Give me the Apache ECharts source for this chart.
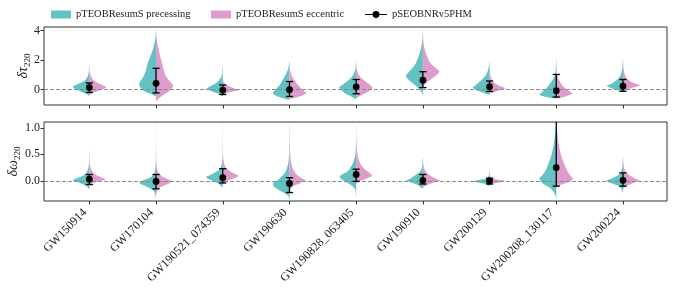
<!DOCTYPE html>
<html>
<head>
<meta charset="utf-8">
<script src="https://cdn.jsdelivr.net/npm/echarts@6/dist/echarts.min.js"></script>
<style>html,body{margin:0;padding:0;background:#fff}#c{width:674px;height:293px}</style>
</head>
<body>
<div id="c"></div>
<script>
const categories = ['GW150914','GW170104','GW190521_074359','GW190630','GW190828_063405','GW190910','GW200129','GW200208_130117','GW200224'];
const tauTicks = [0, 2, 4];
const omegaTicks = [0, 0.5, 1.0];

// violin half profiles: [value, half-width in category units]
const precTau = [
  [[-0.45,0],[-0.3,0.04],[-0.1,0.14],[0.1,0.23],[0.2,0.245],[0.35,0.19],[0.55,0.09],[0.8,0.035],[1.2,0.008],[1.7,0]],
  [[-0.45,0],[-0.3,0.07],[-0.1,0.18],[0.2,0.245],[0.45,0.25],[0.8,0.2],[1.2,0.16],[1.8,0.125],[2.3,0.08],[2.7,0.05],[3.2,0.022],[3.6,0.008],[4.1,0]],
  [[-0.45,0],[-0.3,0.05],[-0.1,0.17],[0.08,0.24],[0.2,0.2],[0.45,0.1],[0.7,0.045],[1.0,0.015],[1.6,0]],
  [[-0.68,0],[-0.55,0.12],[-0.35,0.23],[-0.2,0.25],[0,0.21],[0.3,0.15],[0.6,0.11],[1.0,0.06],[1.4,0.02],[1.95,0]],
  [[-0.65,0],[-0.5,0.06],[-0.3,0.15],[0,0.23],[0.15,0.255],[0.35,0.2],[0.7,0.1],[1.0,0.045],[1.4,0.012],[1.95,0]],
  [[-0.35,0],[-0.1,0.03],[0.25,0.1],[0.6,0.2],[0.95,0.255],[1.15,0.22],[1.5,0.15],[1.85,0.1],[2.5,0.045],[3.2,0.012],[4.1,0]],
  [[-0.35,0],[-0.2,0.1],[0,0.21],[0.15,0.25],[0.3,0.21],[0.7,0.11],[1.0,0.055],[1.3,0.025],[1.85,0]],
  [[-0.6,0],[-0.5,0.15],[-0.35,0.25],[-0.1,0.2],[0.15,0.14],[0.5,0.08],[0.8,0.035],[1.2,0.012],[2.05,0]],
  [[-0.15,0],[0,0.1],[0.15,0.2],[0.26,0.24],[0.4,0.17],[0.7,0.08],[1.0,0.035],[1.4,0.012],[2.05,0]]
];
const eccTau = [
  [[-0.35,0],[-0.2,0.06],[0,0.18],[0.17,0.255],[0.3,0.2],[0.55,0.09],[0.8,0.035],[1.2,0.008],[1.7,0]],
  [[-0.8,0],[-0.6,0.04],[-0.3,0.13],[0,0.22],[0.25,0.255],[0.5,0.22],[0.9,0.15],[1.4,0.11],[1.8,0.09],[2.3,0.06],[2.7,0.04],[3.2,0.018],[3.6,0.006],[4.1,0]],
  [[-0.35,0],[-0.2,0.09],[-0.03,0.24],[0.1,0.17],[0.3,0.06],[0.5,0.015],[0.9,0]],
  [[-0.62,0],[-0.5,0.13],[-0.3,0.24],[-0.2,0.25],[0,0.2],[0.3,0.13],[0.6,0.08],[1.0,0.03],[1.4,0.008],[1.95,0]],
  [[-0.55,0],[-0.4,0.07],[-0.2,0.16],[0,0.22],[0.15,0.245],[0.35,0.2],[0.7,0.1],[1.0,0.04],[1.4,0.01],[1.95,0]],
  [[0.2,0],[0.45,0.05],[0.8,0.15],[1.1,0.23],[1.25,0.245],[1.45,0.2],[1.8,0.11],[2.2,0.07],[2.6,0.035],[3.2,0.01],[4.1,0]],
  [[-0.25,0],[-0.1,0.1],[0.1,0.24],[0.25,0.15],[0.5,0.06],[0.8,0.022],[1.2,0.008],[1.85,0]],
  [[-0.6,0],[-0.45,0.15],[-0.25,0.245],[-0.05,0.18],[0.25,0.1],[0.5,0.06],[0.8,0.025],[1.2,0.008],[2.05,0]],
  [[-0.1,0],[0.05,0.08],[0.2,0.2],[0.3,0.255],[0.45,0.16],[0.7,0.07],[1.0,0.03],[1.4,0.01],[2.05,0]]
];
const precOmega = [
  [[-0.16,0],[-0.1,0.04],[-0.04,0.14],[0.01,0.25],[0.05,0.18],[0.1,0.09],[0.16,0.04],[0.3,0.008],[0.6,0]],
  [[-0.32,0],[-0.2,0.03],[-0.12,0.12],[-0.04,0.25],[0.02,0.17],[0.07,0.08],[0.15,0.025],[0.3,0.006],[0.6,0.002],[1.11,0]],
  [[-0.12,0],[-0.06,0.06],[0.0,0.16],[0.07,0.25],[0.12,0.17],[0.18,0.09],[0.24,0.035],[0.4,0.006],[0.7,0.002],[1.11,0]],
  [[-0.36,0],[-0.28,0.02],[-0.2,0.12],[-0.12,0.22],[-0.05,0.25],[0.02,0.17],[0.08,0.12],[0.15,0.07],[0.23,0.04],[0.4,0.012],[0.7,0.004],[1.11,0]],
  [[-0.3,0],[-0.15,0.02],[-0.06,0.1],[0.02,0.21],[0.08,0.25],[0.13,0.2],[0.18,0.125],[0.26,0.08],[0.34,0.045],[0.5,0.012],[0.8,0.003],[1.11,0]],
  [[-0.15,0],[-0.1,0.05],[-0.04,0.15],[0.0,0.25],[0.05,0.18],[0.1,0.12],[0.16,0.05],[0.25,0.015],[0.45,0]],
  [[-0.1,0],[-0.06,0.06],[-0.03,0.17],[-0.01,0.25],[0.02,0.15],[0.05,0.05],[0.1,0.012],[0.2,0]],
  [[-0.35,0],[-0.25,0.02],[-0.15,0.08],[-0.07,0.18],[0.0,0.24],[0.05,0.25],[0.12,0.2],[0.22,0.15],[0.35,0.11],[0.48,0.075],[0.7,0.035],[0.95,0.012],[1.15,0]],
  [[-0.22,0],[-0.12,0.04],[-0.06,0.14],[0.0,0.25],[0.05,0.16],[0.1,0.08],[0.16,0.035],[0.25,0.012],[0.45,0]]
];
const eccOmega = [
  [[-0.08,0],[-0.04,0.06],[0.0,0.17],[0.03,0.25],[0.07,0.17],[0.12,0.09],[0.18,0.04],[0.3,0.01],[0.6,0]],
  [[-0.25,0],[-0.14,0.04],[-0.08,0.14],[-0.01,0.24],[0.04,0.16],[0.1,0.075],[0.18,0.025],[0.35,0.006],[0.6,0.002],[1.11,0]],
  [[-0.06,0],[0.0,0.07],[0.05,0.17],[0.09,0.24],[0.14,0.17],[0.2,0.09],[0.27,0.035],[0.45,0.006],[0.7,0.002],[1.11,0]],
  [[-0.16,0],[-0.1,0.06],[-0.04,0.17],[0.01,0.24],[0.06,0.17],[0.13,0.1],[0.22,0.055],[0.32,0.03],[0.5,0.012],[0.8,0.004],[1.11,0]],
  [[-0.05,0],[0.0,0.06],[0.05,0.17],[0.1,0.24],[0.16,0.19],[0.23,0.12],[0.32,0.065],[0.41,0.035],[0.6,0.01],[0.85,0.003],[1.11,0]],
  [[-0.13,0],[-0.08,0.06],[-0.03,0.17],[0.0,0.26],[0.05,0.18],[0.1,0.11],[0.16,0.05],[0.25,0.015],[0.45,0]],
  [[-0.08,0],[-0.05,0.06],[-0.02,0.18],[0.0,0.24],[0.02,0.14],[0.05,0.04],[0.1,0.01],[0.2,0]],
  [[-0.12,0],[-0.08,0.06],[-0.03,0.17],[0.03,0.25],[0.1,0.21],[0.2,0.16],[0.35,0.11],[0.48,0.075],[0.7,0.035],[0.95,0.012],[1.15,0]],
  [[-0.15,0],[-0.09,0.06],[-0.04,0.16],[0.0,0.25],[0.04,0.19],[0.1,0.1],[0.16,0.045],[0.25,0.015],[0.45,0]]
];
// pSEOBNRv5PHM median and error bounds
const tauMed = [0.15, 0.43, -0.03, 0.0, 0.19, 0.64, 0.2, -0.07, 0.23];
const tauLo  = [-0.19, -0.22, -0.33, -0.46, -0.28, 0.14, -0.12, -0.5, -0.11];
const tauHi  = [0.46, 1.45, 0.32, 0.55, 0.69, 1.22, 0.59, 1.03, 0.69];
const omegaMed = [0.03, -0.01, 0.06, -0.05, 0.12, 0.01, 0.0, 0.25, 0.01];
const omegaLo  = [-0.07, -0.15, -0.04, -0.22, -0.01, -0.06, -0.06, -0.1, -0.1];
const omegaHi  = [0.12, 0.12, 0.23, 0.06, 0.22, 0.12, 0.05, 1.3, 0.15];

const TEAL = '#63c2c3';
const PINK = '#dd9dcc';
const FONT = 'Liberation Serif';
const NAME_P = 'pTEOBResumS precessing';
const NAME_E = 'pTEOBResumS eccentric';
const NAME_V = 'pSEOBNRv5PHM';

function halfViolin(profiles, side, color) {
  return function (params, api) {
    const i = api.value(0);
    const prof = profiles[i];
    const pts = prof.map(p => api.coord([i + side * p[1], p[0]]));
    for (let k = prof.length - 2; k > 0; k--) pts.push(api.coord([i, prof[k][0]]));
    return { type: 'polygon', shape: { points: pts, smooth: 0.3 }, style: { fill: color } };
  };
}
function errRender(params, api) {
  const i = api.value(0);
  const m = api.coord([i, api.value(1)]);
  const lo = api.coord([i, api.value(2)]);
  const hi = api.coord([i, api.value(3)]);
  const c = 3.6;
  const st = { stroke: '#000', lineWidth: 1.3 };
  return { type: 'group', children: [
    { type: 'line', shape: { x1: lo[0], y1: lo[1], x2: hi[0], y2: hi[1] }, style: st },
    { type: 'line', shape: { x1: lo[0] - c, y1: lo[1], x2: lo[0] + c, y2: lo[1] }, style: st },
    { type: 'line', shape: { x1: hi[0] - c, y1: hi[1], x2: hi[0] + c, y2: hi[1] }, style: st },
    { type: 'circle', shape: { cx: m[0], cy: m[1], r: 3.4 }, style: { fill: '#000' } }
  ]};
}

const idxData = categories.map((c, i) => [i, 0]);
function panelSeries(k, prec, ecc, med, lo, hi) {
  return [
    { name: NAME_P, type: 'custom', xAxisIndex: k, yAxisIndex: k, clip: true, itemStyle: { color: TEAL },
      renderItem: halfViolin(prec, -1, TEAL), data: idxData, encode: { x: 0, y: 1 }, z: 2 },
    { name: NAME_E, type: 'custom', xAxisIndex: k, yAxisIndex: k, clip: true, itemStyle: { color: PINK },
      renderItem: halfViolin(ecc, 1, PINK), data: idxData, encode: { x: 0, y: 1 }, z: 2,
      markLine: { silent: true, symbol: 'none', label: { show: false },
        lineStyle: { type: [4, 2], color: '#8a8a8a', width: 1 }, data: [{ yAxis: 0 }] } },
    { name: NAME_V, type: 'custom', xAxisIndex: k, yAxisIndex: k, clip: true, itemStyle: { color: '#000' },
      renderItem: errRender, data: categories.map((c, i) => [i, med[i], lo[i], hi[i]]),
      encode: { x: 0, y: [1, 2, 3] }, z: 5 }
  ];
}

const idx = categories.map((c, i) => i);
function xAxis(k, showLabels) {
  return {
    type: 'value', gridIndex: k, min: -0.68, max: 8.66,
    axisLine: { show: false, onZero: false }, splitLine: { show: false },
    axisTick: { show: true, customValues: idx, length: 3.5, lineStyle: { color: '#333', width: 1 } },
    axisLabel: { show: showLabels, customValues: idx, rotate: 45, margin: 14,
      align: 'right', verticalAlign: 'bottom',
      fontFamily: FONT, fontSize: 12, color: '#222',
      formatter: v => categories[Math.round(v)] }
  };
}
function yAxis(k, min, max, ticks, fmt, nm, gap) {
  return {
    type: 'value', gridIndex: k, min: min, max: max,
    axisLine: { show: false, onZero: false }, splitLine: { show: false },
    axisTick: { show: true, customValues: ticks, length: 3.5, lineStyle: { color: '#333', width: 1 } },
    axisLabel: { customValues: ticks, formatter: fmt, margin: 4, fontFamily: FONT, fontSize: 12, color: '#222' },
    name: nm, nameLocation: 'middle', nameGap: gap, nameRotate: 90, nameMoveOverlap: false,
    nameTextStyle: { rich: {
      a: { fontFamily: FONT, fontStyle: 'italic', fontSize: 14, color: '#222', lineHeight: 18 },
      b: { fontFamily: FONT, fontSize: 9, color: '#222', verticalAlign: 'bottom', lineHeight: 12 }
    } }
  };
}
function legendItem(name, left, icon, w, h) {
  return { data: [{ name: name, icon: icon }], left: left, top: 9, padding: 0,
    itemWidth: w, itemHeight: h, selectedMode: false,
    textStyle: { fontFamily: FONT, fontSize: 10.5, color: '#222' } };
}

const chart = echarts.init(document.getElementById('c'), null, { renderer: 'canvas' });
chart.setOption({
  animation: false,
  backgroundColor: '#fff',
  legend: [
    legendItem(NAME_P, 51, 'rect', 20, 8),
    legendItem(NAME_E, 211, 'rect', 20, 8),
    legendItem(NAME_V, 365, 'path://M0,3.4H22V4.6H0Z M14.4,4A3.4,3.4 0 1,1 7.6,4A3.4,3.4 0 1,1 14.4,4Z', 22, 8)
  ],
  grid: [
    { left: 44, right: 7, top: 27, height: 78, show: true, borderColor: '#333', borderWidth: 1,
      containLabel: false, outerBoundsMode: 'none' },
    { left: 44, right: 7, top: 122, height: 79, show: true, borderColor: '#333', borderWidth: 1,
      containLabel: false, outerBoundsMode: 'none' }
  ],
  xAxis: [xAxis(0, false), xAxis(1, true)],
  yAxis: [
    yAxis(0, -1.04, 4.25, tauTicks, v => String(Math.round(v)), '{a|δτ}{b|220}', 12),
    yAxis(1, -0.38, 1.11, omegaTicks, v => v.toFixed(1), '{a|δω}{b|220}', 22)
  ],
  series: [].concat(
    panelSeries(0, precTau, eccTau, tauMed, tauLo, tauHi),
    panelSeries(1, precOmega, eccOmega, omegaMed, omegaLo, omegaHi)
  )
});
</script>
</body>
</html>
